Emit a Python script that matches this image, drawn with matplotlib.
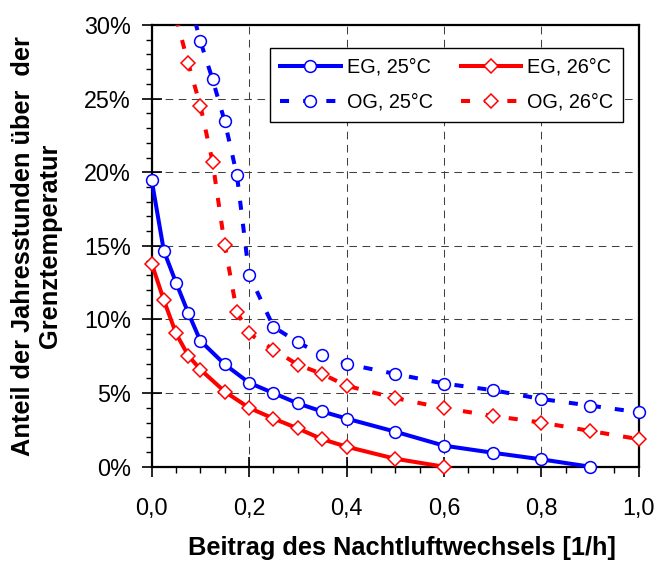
import matplotlib
matplotlib.use("Agg")
import matplotlib.pyplot as plt
from matplotlib.ticker import MultipleLocator, FixedLocator, FixedFormatter
from matplotlib.patches import Rectangle

plt.rcParams['font.family'] = ['Liberation Sans', 'DejaVu Sans']

# Data (x: air change contribution [1/h], y: share of annual hours in %)
x_eg25 = [0, 0.025, 0.05, 0.075, 0.1, 0.15, 0.2, 0.25, 0.3, 0.35, 0.4, 0.5, 0.6, 0.7, 0.8, 0.9]
y_eg25 = [19.45, 14.65, 12.5, 10.45, 8.55, 6.95, 5.7, 5.0, 4.3, 3.75, 3.27, 2.38, 1.43, 0.95, 0.5, 0.0]

x_eg26 = [0, 0.025, 0.05, 0.075, 0.1, 0.15, 0.2, 0.25, 0.3, 0.35, 0.4, 0.5, 0.6]
y_eg26 = [13.8, 11.3, 9.05, 7.55, 6.6, 5.1, 4.0, 3.27, 2.6, 1.87, 1.36, 0.54, 0.0]

x_og25 = [0.075, 0.1, 0.125, 0.15, 0.175, 0.2, 0.25, 0.3, 0.35, 0.4, 0.5, 0.6, 0.7, 0.8, 0.9, 1.0]
y_og25 = [32.0, 28.9, 26.3, 23.45, 19.8, 13.05, 9.5, 8.45, 7.6, 6.98, 6.3, 5.65, 5.2, 4.6, 4.15, 3.7]

x_og26 = [0.05, 0.075, 0.1, 0.125, 0.15, 0.175, 0.2, 0.25, 0.3, 0.35, 0.4, 0.5, 0.6, 0.7, 0.8, 0.9, 1.0]
y_og26 = [30.5, 27.4, 24.5, 20.7, 15.05, 10.5, 9.05, 7.95, 6.93, 6.3, 5.5, 4.66, 3.98, 3.45, 3.0, 2.43, 1.87]

labels = ["EG, 25°C", "EG, 26°C", "OG, 25°C", "OG, 26°C"]
x_ticks = [0.0, 0.2, 0.4, 0.6, 0.8, 1.0]
x_ticklabels = ["0,0", "0,2", "0,4", "0,6", "0,8", "1,0"]
y_ticks = [0, 5, 10, 15, 20, 25, 30]
y_ticklabels = ["0%", "5%", "10%", "15%", "20%", "25%", "30%"]

fig = plt.figure(figsize=(6.58, 5.61), dpi=100)
ax = fig.add_axes([151.7/658, 1-466.7/561, 487/658, 441.7/561])

lw = 2.9
dash = (0, (2.25, 3.5))
blue = "#0000FF"
red = "#FF0000"
ms_c = 8.5
ms_d = 7.0
mew = 1.1

l1, = ax.plot(x_eg25, y_eg25, color=blue, lw=lw, marker='o', ms=ms_c, mfc='white', mec=blue, mew=mew, zorder=4)
l2, = ax.plot(x_eg26, y_eg26, color=red, lw=lw, marker='D', ms=ms_d, mfc='white', mec=red, mew=mew, zorder=4)
l3, = ax.plot(x_og25, y_og25, color=blue, lw=lw, ls=dash, marker='o', ms=ms_c, mfc='white', mec=blue, mew=mew, zorder=3)
l4, = ax.plot(x_og26, y_og26, color=red, lw=lw, ls=dash, marker='D', ms=ms_d, mfc='white', mec=red, mew=mew, zorder=3)

# clip only at the top, let markers on the side/bottom edges show fully
for ln in (l1, l2, l3, l4):
    ln.set_clip_path(Rectangle((-0.06, -0.06), 1.12, 1.06, transform=ax.transAxes))

ax.set_xlim(0, 1.0)
ax.set_ylim(0, 30)

ax.xaxis.set_major_locator(FixedLocator(x_ticks))
ax.xaxis.set_major_formatter(FixedFormatter(x_ticklabels))
ax.xaxis.set_minor_locator(MultipleLocator(0.05))
ax.yaxis.set_major_locator(FixedLocator(y_ticks))
ax.yaxis.set_major_formatter(FixedFormatter(y_ticklabels))
ax.yaxis.set_minor_locator(MultipleLocator(1))

ax.tick_params(which='major', direction='inout', length=14, width=1.2, labelsize=16.8, pad=8, color='black')
ax.tick_params(which='minor', direction='out', length=4, width=1.0, color='black')
ax.tick_params(axis='x', which='major', pad=15)

for s in ax.spines.values():
    s.set_linewidth(1.6)
    s.set_color('black')

ax.grid(True, which='major', color='#404040', lw=0.75, ls=(0, (7.3, 5.3)), zorder=1)

ax.set_xlabel("Beitrag des Nachtluftwechsels [1/h]", fontsize=18.3, fontweight='bold', va='top')
ax.xaxis.set_label_coords(0.514, -0.158)
ax.set_ylabel("Anteil der Jahresstunden über  der\nGrenztemperatur", fontsize=18.3, fontweight='bold', linespacing=1.12)
ax.yaxis.set_label_coords(-0.185, 0.5)

leg = ax.legend([l1, l3, l2, l4], [labels[0], labels[2], labels[1], labels[3]], ncol=2,
                loc='upper right', bbox_to_anchor=(0.968, 0.948), fontsize=14.3,
                handlelength=3.05, handletextpad=0.3, columnspacing=1.4, labelspacing=0.8,
                borderpad=0.5, borderaxespad=0, frameon=True, fancybox=False, framealpha=1)
leg.get_frame().set_edgecolor('black')
leg.get_frame().set_linewidth(1.0)
leg.set_zorder(5)

fig.savefig("out.png", dpi=100)
